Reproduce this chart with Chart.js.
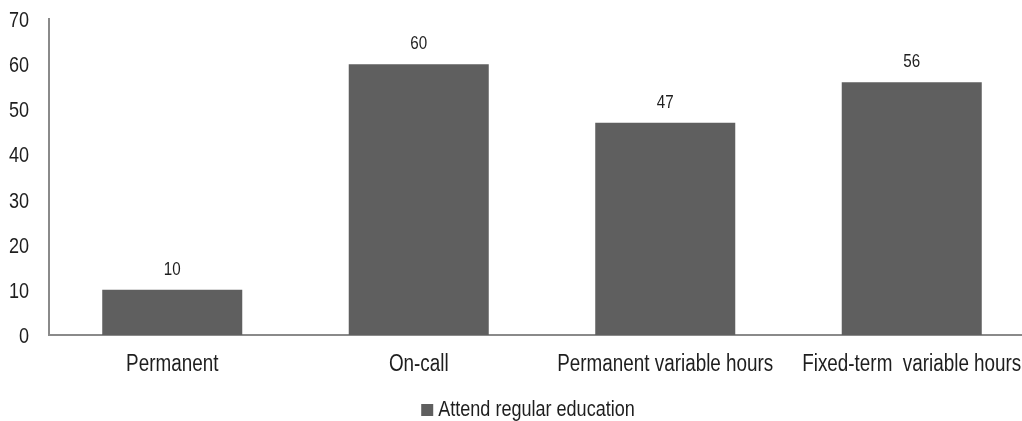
<!DOCTYPE html>
<html>
<head>
<meta charset="utf-8">
<title>Attend regular education</title>
<script src="https://cdn.jsdelivr.net/npm/chart.js@4/dist/chart.umd.min.js"></script>
<style>
    html, body { margin: 0; padding: 0; background: #fff; overflow: hidden; }
    .frame { width: 1022px; height: 421px; overflow: hidden; }
    .wrap { position: relative; width: 1056px; height: 421px; }
</style>
</head>
<body>
<div class="frame">
    <div class="wrap"><canvas id="eduChart"></canvas></div>
</div>
<script>
// --- Data ---
const categories = ['Permanent', 'On-call', 'Permanent variable hours', 'Fixed-term  variable hours'];
const seriesName = 'Attend regular education';
const seriesValues = [10, 60, 47, 56];
const yTicks = [0, 10, 20, 30, 40, 50, 60, 70];

const FONT = "'Liberation Sans', Arial, sans-serif";
const TEXT = '#1e1e1e';
const BAR = '#5f5f5f';
const AXIS = '#8a8a8a';
const SQUEEZE = 0.82;   // horizontal squeeze -> narrow face look

// Draw text squeezed horizontally, anchored on its baseline
function narrowText(ctx, text, x, y, size, align) {
    ctx.save();
    ctx.font = `${size}px ${FONT}`;
    ctx.fillStyle = TEXT;
    ctx.textAlign = align;
    ctx.textBaseline = 'alphabetic';
    ctx.translate(x, y);
    ctx.scale(SQUEEZE, 1);
    ctx.fillText(text, 0, 0);
    ctx.restore();
}

// --- Axis labels, value labels and legend in the narrow face ---
const narrowLabels = {
    id: 'narrowLabels',
    afterDraw(chart) {
        const ctx = chart.ctx;
        const xs = chart.scales.x;
        const ys = chart.scales.y;
        const area = chart.chartArea;

        // y ticks, right aligned, vertically centred on the tick
        yTicks.forEach(v => {
            narrowText(ctx, String(v), area.left - 20, ys.getPixelForValue(v) + 8, 22, 'right');
        });

        // category labels under the axis
        categories.forEach((c, i) => {
            narrowText(ctx, c, xs.getPixelForTick(i), area.bottom + 36, 23, 'center');
        });

        // values above the bars
        chart.getDatasetMeta(0).data.forEach((bar, i) => {
            narrowText(ctx, String(seriesValues[i]), bar.x, bar.y - 15, 18.5, 'center');
        });

        // legend: square swatch + series name, centred on the canvas
        ctx.save();
        ctx.font = `22px ${FONT}`;
        const textW = ctx.measureText(seriesName).width * SQUEEZE;
        ctx.restore();
        const box = 12, gap = 5;
        const startX = chart.width / 2 - (box + gap + textW) / 2;
        const baseY = chart.height - 5;
        ctx.fillStyle = BAR;
        ctx.fillRect(startX, baseY - box, box, box);
        narrowText(ctx, seriesName, startX + box + gap, baseY, 22, 'left');
    }
};

const ctx = document.getElementById('eduChart').getContext('2d');

new Chart(ctx, {
    type: 'bar',
    data: {
        labels: categories,
        datasets: [{
            label: seriesName,
            data: seriesValues,
            backgroundColor: BAR,
            borderWidth: 0,
            barPercentage: 0.568,
            categoryPercentage: 1.0
        }]
    },
    options: {
        responsive: true,
        maintainAspectRatio: false,
        animation: false,
        layout: { padding: { top: 19, right: 21, bottom: 0, left: 0 } },
        plugins: {
            tooltip: { enabled: false },
            legend: { display: false }
        },
        scales: {
            x: {
                grid: { display: false, drawTicks: false },
                border: { display: true, color: AXIS, width: 2 },
                ticks: { display: false },
                afterFit: (scale) => { scale.height = 86; }
            },
            y: {
                min: yTicks[0],
                max: yTicks[yTicks.length - 1],
                grid: { display: false, drawTicks: false },
                border: { display: true, color: AXIS, width: 2 },
                ticks: { display: false },
                afterBuildTicks: (scale) => {
                    scale.ticks = yTicks.map(v => ({ value: v }));
                },
                afterFit: (scale) => { scale.width = 49; }
            }
        }
    },
    plugins: [narrowLabels]
});
</script>
</body>
</html>
